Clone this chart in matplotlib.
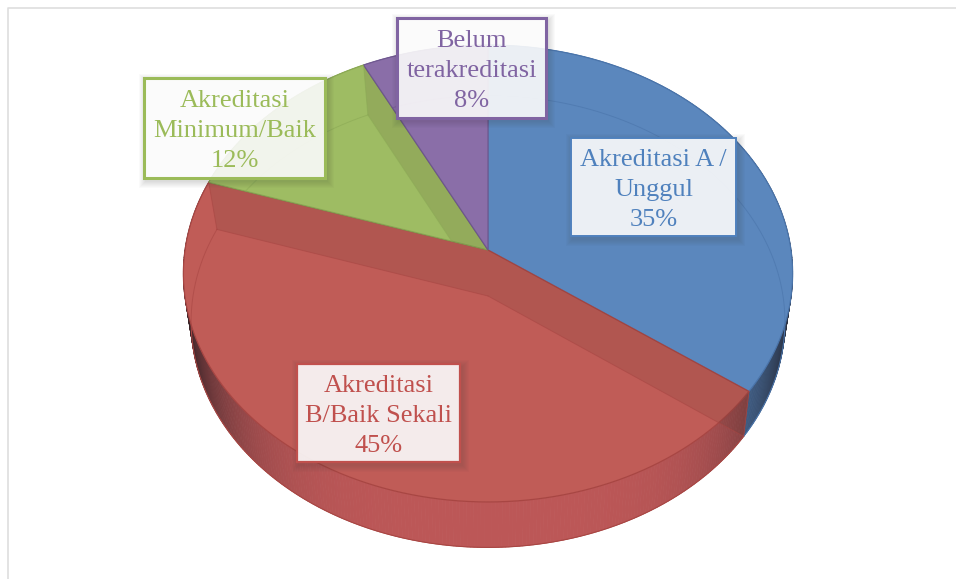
#!/usr/bin/python3

import matplotlib
matplotlib.use('Agg')
import matplotlib.pyplot as plt
import numpy as np
from matplotlib.collections import PolyCollection
from matplotlib.patches import Polygon, Rectangle

plt.rc('font', family=['Liberation Serif', 'DejaVu Serif'])

# slices, clockwise from the top
labels = ['Akreditasi A /\nUnggul', 'Akreditasi\nB/Baik Sekali',
          'Akreditasi\nMinimum/Baik', 'Belum\nterakreditasi']
percents = [35, 45, 12, 8]
# shares as read from the slice borders, the printed labels are rounded
shares = [35.0, 45.0, 12.6, 7.4]

line_colors = ['#4F81BD', '#C0504D', '#9BBB59', '#8064A2']
top_colors = ['#5B87BD', '#C05C57', '#9EBC63', '#8A6EA8']
edge_colors = ['#4A74AA', '#A84643', '#8BA955', '#6F5890']
side_colors = ['#4F7DB4', '#BC5757', '#9EBC63', '#8A6EA8']

# label boxes in pixels: left, top, right, bottom
boxes = [(571, 138, 736, 236), (297, 364, 460, 462),
         (144, 78, 325, 178), (397, 18, 546, 118)]
box_widths = [1.4, 1.6, 2.2, 2.2]

# perspective of the two discs: apex x, apex y, half width, depth, tilt
top_disc = (488, 250, 303, 226, 0.103)
bottom_disc = (488, 296, 295, 223, 0.113)


def project(frac, disc):
    x0, y0, a, b, c = disc
    ang = 2 * np.pi * np.asarray(frac)
    sx, sy = np.sin(ang), np.cos(ang)
    w = 1 + c * sy
    return x0 + a * sx / w, y0 - b * sy / w


def rim(f0, f1, disc, n=100):
    x, y = project(np.linspace(f0, f1, n), disc)
    return np.column_stack([x, y])


def mix(color, factor):
    rgb = np.array(matplotlib.colors.to_rgb(color))
    return tuple(rgb * factor + np.array([0.12, 0.10, 0.12]) * (1 - factor))


if __name__ == '__main__':

    fig = plt.figure(figsize=(9.56, 5.79), dpi=100)
    ax = fig.add_axes([0, 0, 1, 1])
    ax.set_xlim(0, 956)
    ax.set_ylim(579, 0)
    ax.axis('off')

    # chart frame
    ax.plot([956, 8, 8], [7.5, 7.5, 579], color='#DEDEDE', lw=1.2, zorder=1)

    edges = np.cumsum([0] + shares) / 100.0

    # outer wall
    for i in range(4):
        n = max(int(shares[i] * 6), 2)
        t = np.linspace(edges[i], edges[i + 1], n + 1)
        xa, ya = project(t, top_disc)
        xb, yb = project(t, bottom_disc)
        quads, cols = [], []
        for k in range(n):
            quads.append([(xa[k], ya[k]), (xa[k + 1], ya[k + 1]),
                          (xb[k + 1], yb[k + 1]), (xb[k], yb[k])])
            shade = abs(np.sin(2 * np.pi * (t[k] + t[k + 1]) / 2))
            cols.append(mix(side_colors[i], 1 - 0.88 * shade ** 4.5))
        ax.add_collection(PolyCollection(quads, facecolors=cols, edgecolors=cols,
                                         linewidths=0.6, zorder=2))
        outer = rim(edges[i], edges[i + 1], bottom_disc)
        ax.plot(outer[:, 0], outer[:, 1], color=edge_colors[i], lw=0.8, zorder=2.5)

    # top face
    wedges = []
    for i in range(4):
        pts = np.vstack([[top_disc[:2]], rim(edges[i], edges[i + 1], top_disc)])
        w = Polygon(pts, closed=True, facecolor=top_colors[i],
                    edgecolor=edge_colors[i], lw=0.9, zorder=3)
        ax.add_patch(w)
        wedges.append(w)

    # far rim of the lower disc, seen through the top face
    for i in range(4):
        far = rim(edges[i], edges[i + 1], bottom_disc)
        keep = far[:, 1] < 330
        line, = ax.plot(far[keep, 0], far[keep, 1], color=edge_colors[i],
                        lw=0.7, alpha=0.6, zorder=3.2)
        line.set_clip_path(wedges[i])

    # inner walls, seen through the top face
    for i, f in [(1, edges[1]), (1, edges[2]), (2, edges[3])]:
        xa, ya = project(f, top_disc)
        xb, yb = project(f, bottom_disc)
        wall = Polygon([top_disc[:2], (xa, ya), (xb, yb), bottom_disc[:2]],
                       closed=True, facecolor='#3A2A20', alpha=0.11,
                       edgecolor='none', zorder=3.4)
        ax.add_patch(wall)
        low, = ax.plot([xb, bottom_disc[0]], [yb, bottom_disc[1]],
                       color=edge_colors[i], lw=0.7, alpha=0.6, zorder=3.5)
        ax.plot([xa, xb], [ya, yb], color=edge_colors[i], lw=0.7, alpha=0.6,
                zorder=3.5)
        if i == 2:
            wall.set_clip_path(wedges[2])
            low.set_clip_path(wedges[2])

    # label boxes
    for i in range(4):
        x0, y0, x1, y1 = boxes[i]
        for grow in range(1, 8):
            ax.add_patch(Rectangle((x0 + 2 - grow, y0 + 3 - grow),
                                   x1 - x0 + 2 * grow, y1 - y0 + 2 * grow,
                                   facecolor='#303030', alpha=0.022,
                                   edgecolor='none', zorder=4))
        ax.add_patch(Rectangle((x0, y0), x1 - x0, y1 - y0, facecolor='white',
                               alpha=0.89, edgecolor='none', zorder=5))
        ax.add_patch(Rectangle((x0, y0), x1 - x0, y1 - y0, facecolor='none',
                               edgecolor=line_colors[i], lw=box_widths[i], zorder=6))
        ax.text((x0 + x1) / 2, (y0 + y1) / 2 + 3,
                '{}\n{}%'.format(labels[i], percents[i]), color=line_colors[i],
                fontsize=19, ha='center', va='center', linespacing=1.45,
                zorder=7)

    fig.savefig('out.png', dpi=100)
    plt.close()
